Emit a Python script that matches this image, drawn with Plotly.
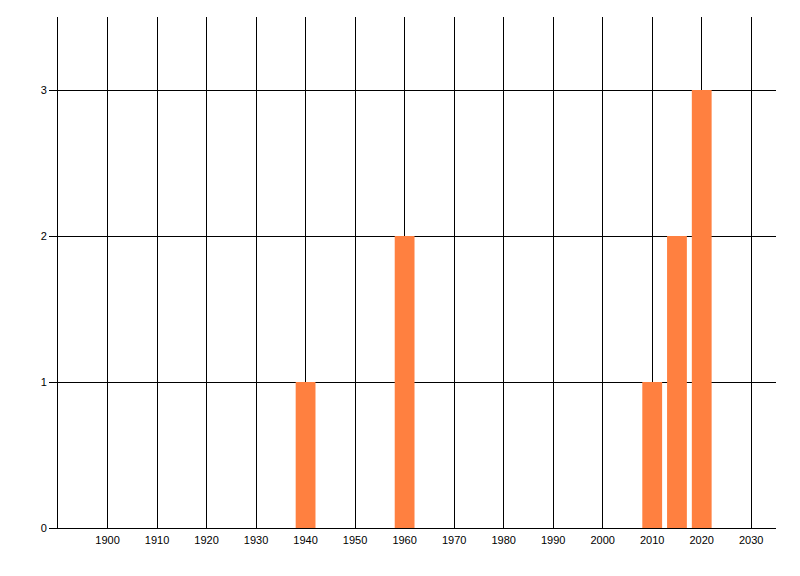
import plotly.graph_objects as go

years = [1940, 1960, 2010, 2015, 2020]
counts = [1, 2, 1, 2, 3]
x_ticks = list(range(1900, 2031, 10))
y_ticks = [0, 1, 2, 3]

fig = go.Figure(go.Bar(x=years, y=counts, width=4, marker=dict(color="#FF8040", line=dict(width=0))))

# page body has an 8px margin; figure sized to fit the 800x576 window
fig.update_layout(
    width=784, height=560,
    margin=dict(l=50, r=16, t=9, b=40),
    plot_bgcolor="white", paper_bgcolor="white",
    showlegend=False,
    font=dict(family="Liberation Sans, Arial, sans-serif", size=11, color="black"),
)
fig.update_xaxes(
    range=[1890, 2035], tickvals=x_ticks, ticktext=[str(v) for v in x_ticks],
    showgrid=True, gridcolor="black", gridwidth=1,
    showline=True, linecolor="black", linewidth=1,
    ticks="", zeroline=False, ticklabelstandoff=2,
)
fig.update_yaxes(
    range=[0, 3.5], tickvals=y_ticks,
    showgrid=True, gridcolor="black", gridwidth=1,
    showline=True, linecolor="black", linewidth=1,
    ticks="outside", ticklen=8, tickcolor="black", tickwidth=1,
    zeroline=False,
)
fig.write_html("out.html")
